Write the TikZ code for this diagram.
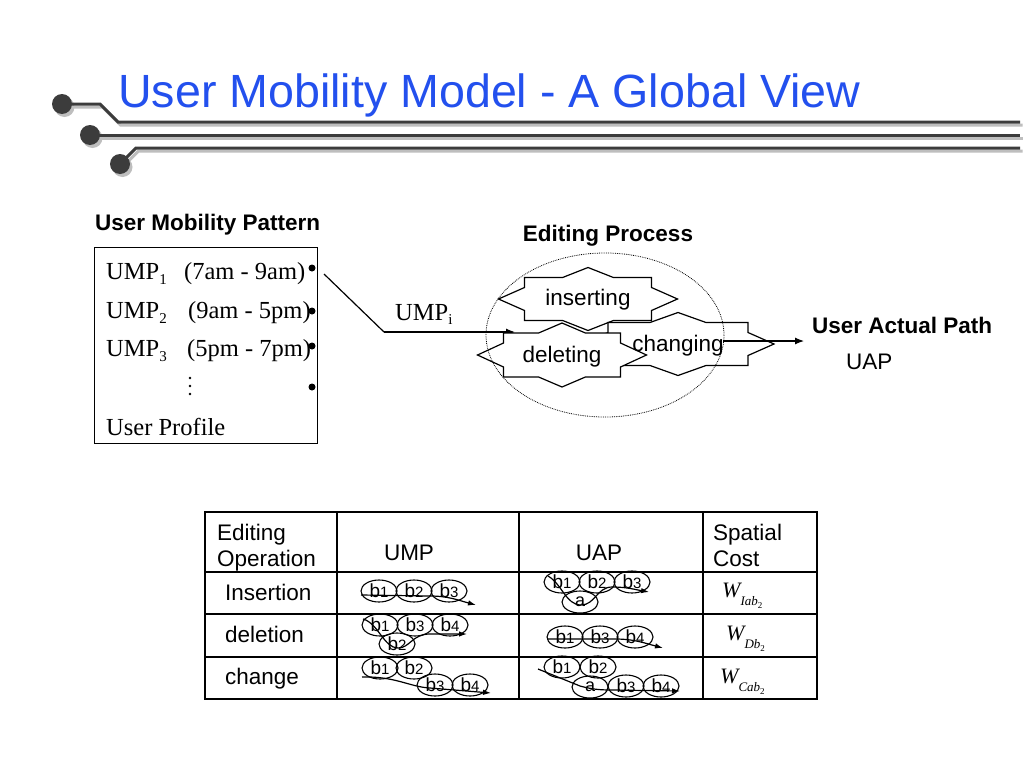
\documentclass[tikz,border=0pt]{standalone}
\usepackage{fontspec}
\setmainfont{Liberation Serif}
\setsansfont{Liberation Sans}
\usetikzlibrary{arrows.meta,shapes.geometric,calc}
\definecolor{titleblue}{RGB}{35,80,238}
\definecolor{deco}{RGB}{60,60,60}
\definecolor{decoshadow}{RGB}{190,190,190}
\newcommand{\fs}[1]{\fontsize{#1}{#1}\selectfont}
\newcommand{\dg}[1]{{\fs{15}#1}}
% editing shape: cx cy halfwidth halfheight
\newcommand{\wshape}[4]{%
  \filldraw[shp, shift={(#1,#2)}] (-#3-26,0) -- (-#3,-#4+10) -- (-#3,-#4) -- (-0.4*#3,-#4) -- (0,-#4-10) -- (0.4*#3,-#4) -- (#3,-#4) -- (#3,-#4+10) -- (#3+26,0) -- (#3,#4-10) -- (#3,#4) -- (0.4*#3,#4) -- (0,#4+10) -- (-0.4*#3,#4) -- (-#3,#4) -- (-#3,#4-10) -- cycle;}
\begin{document}
\begin{tikzpicture}[x=1pt,y=-1pt,
  lab/.style={font=\fs{22.5}\sffamily\bfseries, inner sep=0},
  sans/.style={font=\fs{22.5}\sffamily, inner sep=0},
  serif/.style={font=\fs{24.5}, inner sep=0},
  shp/.style={draw=black, fill=white, line width=1.2pt, line join=miter},
  arr/.style={line width=1.2pt, -{Latex[length=9pt,width=7pt]}},
  marr/.style={line width=1.2pt, -{Latex[length=8pt,width=5.5pt]}},
  ell/.style={draw, ellipse, line width=1.1pt, minimum width=36, minimum height=22, inner sep=0, font=\fs{19}\sffamily},
  dot/.style={circle, fill=black, inner sep=0, minimum size=7},
  tbl/.style={line width=1.8pt},
  wcost/.style={font=\fs{22}\itshape, anchor=base west, inner sep=0}]
\useasboundingbox (0,0) rectangle (1024,768);
\fill[white] (0,0) rectangle (1024,768);

% ---- decoration lines (shadow) ----
\begin{scope}[shift={(2.5,3)}, decoshadow]
  \draw[line width=3pt] (62,104) -- (100,104) -- (118,122) -- (1020,122);
  \draw[line width=3pt] (90,135) -- (1020,135);
  \draw[line width=3pt] (120,164) -- (136,148) -- (1020,148);
  \fill (62,104) circle (10);
  \fill (90,135) circle (10);
  \fill (120,164) circle (10);
\end{scope}
\draw[deco, line width=3pt] (62,104) -- (100,104) -- (118,122) -- (1020,122);
\draw[deco, line width=3pt] (90,135) -- (1020,135);
\draw[deco, line width=3pt] (120,164) -- (136,148) -- (1020,148);
\fill[deco] (62,104) circle (10);
\fill[deco] (90,135) circle (10);
\fill[deco] (120,164) circle (10);

% ---- title ----
\node[anchor=base west, inner sep=0, font=\fs{46.6}\sffamily, text=titleblue] (title) at (118,107) {User Mobility Model - A Global View};

% ---- user mobility pattern box ----
\node[lab, anchor=base west] (ptitle) at (95,230) {User Mobility Pattern};
\node[draw, line width=1.1pt, minimum width=223, minimum height=196, inner sep=0, anchor=north west] (box) at (94,247) {};
\node[serif, anchor=base west] (u1) at (106,279) {UMP\raisebox{-5pt}{\fs{15}1}};
\node[serif, anchor=base west] (t1) at (184,279) {(7am - 9am)};
\node[serif, anchor=base west] (u2) at (106,318) {UMP\raisebox{-5pt}{\fs{15}2}};
\node[serif, anchor=base west] (t2) at (188,318) {(9am - 5pm)};
\node[serif, anchor=base west] (u3) at (106,356) {UMP\raisebox{-5pt}{\fs{15}3}};
\node[serif, anchor=base west] (t3) at (187,356) {(5pm - 7pm)};
\fill (190,378) circle (1.4);
\fill (190,386) circle (1.4);
\fill (190,394) circle (1.4);
\node[serif, anchor=base west] (prof) at (106,435) {User Profile};
\node[dot] (d1) at (312,268) {};
\node[dot] (d2) at (312,311) {};
\node[dot] (d3) at (312,346) {};
\node[dot] (d4) at (312,387) {};

% ---- connector into editing process ----
\coordinate (c0) at (324,274);
\coordinate (c1) at (384,332);
\coordinate (c2) at (515,332);
\draw[line width=1.2pt] (c0) -- (c1);
\draw[arr] (c1) -- (c2);
\node[serif, anchor=base west] (umpi) at (395,320) {UMP\raisebox{-4pt}{\fs{15}i}};

% ---- editing process ----
\node[lab, anchor=base] (eptitle) at (608,241) {Editing Process};
\wshape{588}{299}{63.5}{21.5}
\wshape{678}{344}{70}{21.5}
\wshape{562}{355}{58.5}{22}
\node[sans] (ins) at (588,300) {inserting};
\node[sans] (chg) at (678,346) {changing};
\node[sans] (del) at (562,357) {deleting};
\draw[line width=0.8pt, densely dotted] (605,335) ellipse [x radius=119, y radius=82];
\coordinate (c3) at (723,341);
\coordinate (c4) at (804,341);
\draw[arr] (c3) -- (c4);
\node[lab, anchor=base west] (uaptitle) at (812,333) {User Actual Path};
\node[sans, anchor=base west] (uap) at (846,369) {UAP};

% ---- table ----
\draw[tbl] (205,512) rectangle (817,699);
\draw[tbl] (337,512) -- (337,699);
\draw[tbl] (519,512) -- (519,699);
\draw[tbl] (703,512) -- (703,699);
\draw[tbl] (205,572) -- (817,572);
\draw[tbl] (205,614) -- (817,614);
\draw[tbl] (205,657) -- (817,657);

\node[sans, anchor=base west] (h1a) at (217,540) {Editing};
\node[sans, anchor=base west] (h1b) at (217,566) {Operation};
\node[sans, anchor=base] (h2) at (409,560) {UMP};
\node[sans, anchor=base] (h3) at (599,560) {UAP};
\node[sans, anchor=base west] (h4a) at (713,540) {Spatial};
\node[sans, anchor=base west] (h4b) at (713,566) {Cost};
\node[sans, anchor=base west] (r1) at (225,600) {Insertion};
\node[sans, anchor=base west] (r2) at (225,642) {deletion};
\node[sans, anchor=base west] (r3) at (225,684) {change};

% row 1 UMP
\node[ell] (a1) at (379,591) {b\dg{1}};
\node[ell] (a2) at (414,591) {b\dg{2}};
\node[ell] (a3) at (449,591) {b\dg{3}};
\coordinate (a1s) at (361,595);
\coordinate (a1e) at (476,605);
\draw[marr] (a1s) -- (430,596) to[out=0,in=165] (a1e);
% row 2 UMP
\node[ell] (b1) at (380,625) {b\dg{1}};
\node[ell] (b3) at (415,625) {b\dg{3}};
\node[ell] (b4) at (450,625) {b\dg{4}};
\node[ell] (b2) at (397,644) {b\dg{2}};
\coordinate (b1s) at (363,619);
\coordinate (b1e) at (467,634);
\draw[marr] (b1s) .. controls (378,623) and (384,648) .. (398,648) .. controls (410,648) and (412,634) .. (430,634) -- (b1e);
% row 3 UMP
\node[ell] (c1b) at (380,668) {b\dg{1}};
\node[ell] (c2b) at (414,668) {b\dg{2}};
\node[ell] (c3b) at (435,685) {b\dg{3}};
\node[ell] (c4b) at (470,685) {b\dg{4}};
\coordinate (c1s) at (362,677);
\coordinate (c1e) at (491,693);
\draw[marr] (c1s) .. controls (395,676) and (410,687) .. (430,688) -- (c1e);

% row 1 UAP
\node[ell] (e1) at (562,582) {b\dg{1}};
\node[ell] (e2) at (597,582) {b\dg{2}};
\node[ell] (e3) at (632,582) {b\dg{3}};
\node[ell, font=\fs{18}\sffamily] (ea) at (580,602) {a};
\coordinate (e1s) at (548,576);
\coordinate (e1e) at (649,592);
\draw[marr] (e1s) .. controls (562,584) and (566,605) .. (581,605) .. controls (595,605) and (597,587) .. (612,587) to[out=0,in=170] (e1e);
% row 2 UAP
\node[ell] (f1) at (565,637) {b\dg{1}};
\node[ell] (f3) at (600,637) {b\dg{3}};
\node[ell] (f4) at (635,637) {b\dg{4}};
\coordinate (f1s) at (547,639);
\coordinate (f1e) at (663,648);
\draw[marr] (f1s) -- (615,639) to[out=0,in=165] (f1e);
% row 3 UAP
\node[ell] (g1) at (562,667) {b\dg{1}};
\node[ell] (g2) at (598,667) {b\dg{2}};
\node[ell, font=\fs{18}\sffamily] (ga) at (590,687) {a};
\node[ell] (g3) at (626,686) {b\dg{3}};
\node[ell] (g4) at (661,686) {b\dg{4}};
\coordinate (g1s) at (538,669);
\coordinate (g1e) at (680,691);
\draw[marr] (g1s) -- (580,686) to[out=-15,in=180] (612,690) -- (g1e);

% spatial cost
\node[wcost] (w1) at (722,597) {W\raisebox{-8pt}{\fs{13}Iab\raisebox{-3pt}{\fs{9}\upshape 2}}};
\node[wcost] (w2) at (726,640) {W\raisebox{-8pt}{\fs{13}Db\raisebox{-3pt}{\fs{9}\upshape 2}}};
\node[wcost] (w3) at (720,683) {W\raisebox{-8pt}{\fs{13}Cab\raisebox{-3pt}{\fs{9}\upshape 2}}};
\end{tikzpicture}
\end{document}
